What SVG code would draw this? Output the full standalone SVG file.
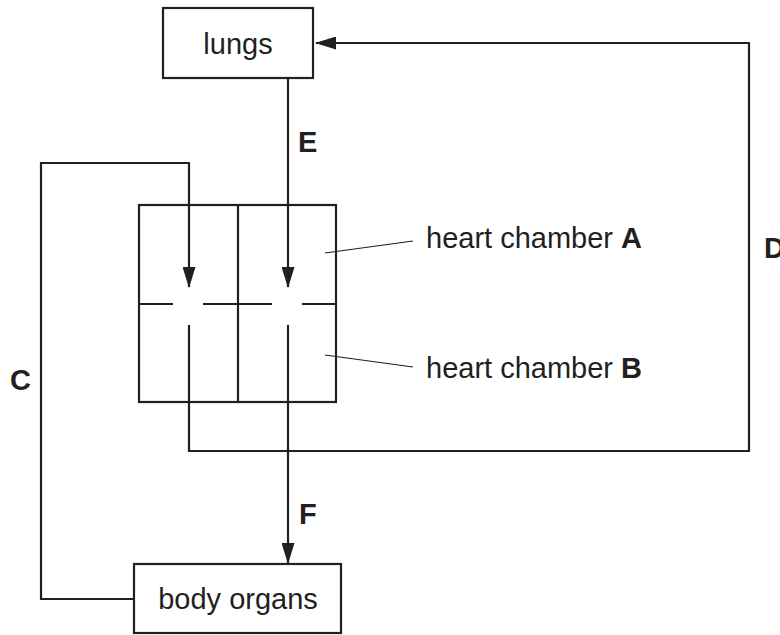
<svg xmlns="http://www.w3.org/2000/svg" width="780" height="635" viewBox="0 0 780 635">
<style>
.box{fill:#fff;stroke:#231f20;stroke-width:2.2}
.frame{fill:none;stroke:#231f20;stroke-width:2.2}
.ln{fill:none;stroke:#231f20;stroke-width:2.2}
.lead{fill:none;stroke:#231f20;stroke-width:1.2}
.t{font-family:"Liberation Sans",Arial,Helvetica,sans-serif;font-size:29px;fill:#231f20}
.b{font-weight:bold}
</style>
<defs>
<marker id="ah" markerUnits="userSpaceOnUse" markerWidth="21" markerHeight="13" viewBox="0 0 21 13" refX="20" refY="6.5" orient="auto">
<path d="M0,0 L21,6.5 L0,13 z" fill="#231f20"/>
</marker>
</defs>
<rect width="780" height="635" fill="#fff"/>
<g id="heart">
<rect class="frame" x="139" y="205" width="197" height="197"/>
<line class="ln" x1="238" y1="205" x2="238" y2="402"/>
<line class="ln" x1="139" y1="304" x2="173" y2="304"/>
<line class="ln" x1="203" y1="304" x2="272" y2="304"/>
<line class="ln" x1="302" y1="304" x2="336" y2="304"/>
</g>
<g id="connectors">
<path class="ln" d="M288 78 V287" marker-end="url(#ah)"/>
<path class="ln" d="M134 599 H41 V163 H189 V287" marker-end="url(#ah)"/>
<path class="ln" d="M189 325 V451 H749 V43 H316" marker-end="url(#ah)"/>
<path class="ln" d="M288 325 V563" marker-end="url(#ah)"/>
<line class="lead" x1="325" y1="253" x2="413" y2="241"/>
<line class="lead" x1="325" y1="355" x2="413" y2="367"/>
</g>
<g id="lungs">
<rect class="box" x="163" y="8" width="150" height="70"/>
<text class="t" x="238" y="54" text-anchor="middle">lungs</text>
</g>
<g id="body-organs">
<rect class="box" x="134" y="564" width="207" height="69"/>
<text class="t" x="238" y="609" text-anchor="middle">body organs</text>
</g>
<g id="labels">
<text class="t" x="426" y="248">heart chamber <tspan class="b">A</tspan></text>
<text class="t" x="426" y="378">heart chamber <tspan class="b">B</tspan></text>
<text class="t b" x="298" y="152">E</text>
<text class="t b" x="299" y="524">F</text>
<text class="t b" x="10" y="390">C</text>
<text class="t b" x="764" y="258">D</text>
</g>
</svg>
